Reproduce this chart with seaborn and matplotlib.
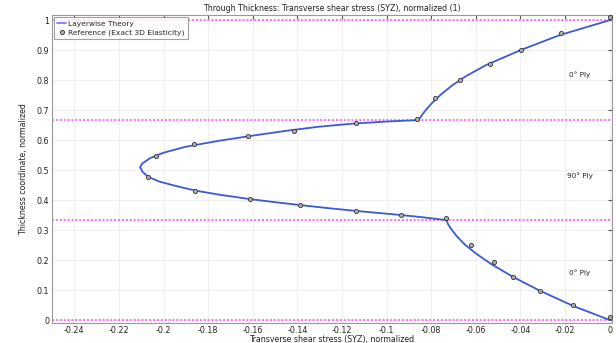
import matplotlib
matplotlib.use("Agg")
import matplotlib.pyplot as plt
import seaborn as sns
import pandas as pd

# Layerwise theory curve, bottom to top
theory_x = [0.0, -0.0164, -0.0314, -0.0434, -0.053, -0.060, -0.065, -0.0685, -0.071, -0.0725,
            -0.0732, -0.083, -0.0934, -0.1035, -0.114, -0.126, -0.139, -0.15, -0.161,
            -0.175, -0.186, -0.195, -0.202, -0.207, -0.2095, -0.2105,
            -0.2095, -0.206, -0.200, -0.19, -0.175, -0.16, -0.145, -0.13, -0.115, -0.10,
            -0.0857, -0.0845, -0.0825, -0.0795, -0.0755, -0.0705, -0.0645, -0.0555,
            -0.040, -0.0225, 0.0]
theory_y = [0.0, 0.047, 0.098, 0.144, 0.186, 0.222, 0.252, 0.279, 0.303, 0.32,
            0.3333, 0.342, 0.35, 0.357, 0.364, 0.373, 0.3835, 0.393, 0.403,
            0.418, 0.432, 0.448, 0.462, 0.478, 0.495, 0.51,
            0.522, 0.54, 0.558, 0.578, 0.598, 0.615, 0.631, 0.645, 0.655, 0.662,
            0.6667, 0.68, 0.70, 0.725, 0.753, 0.783, 0.813, 0.85,
            0.90, 0.95, 1.0]

# Reference (exact 3D elasticity) points
ref_x = [0.0, -0.0164, -0.0314, -0.0434, -0.052, -0.062, -0.0732,
         -0.0934, -0.1139, -0.139, -0.1614, -0.1858, -0.207,
         -0.2036, -0.1864, -0.1622, -0.1413, -0.1139, -0.0864,
         -0.0782, -0.0673, -0.0538, -0.0396, -0.0217, 0.0]
ref_y = [0.011, 0.05, 0.098, 0.144, 0.192, 0.25, 0.339,
         0.35, 0.364, 0.383, 0.403, 0.431, 0.476,
         0.548, 0.586, 0.613, 0.631, 0.656, 0.672,
         0.739, 0.80, 0.853, 0.90, 0.956, 1.009]

ply_bounds = [0.0, 1 / 3, 2 / 3, 1.0]
ply_labels = ["0° Ply", "90° Ply", "0° Ply"]
label_y = [0.157, 0.483, 0.817]

xticks = [-0.24, -0.22, -0.2, -0.18, -0.16, -0.14, -0.12, -0.1, -0.08, -0.06, -0.04, -0.02, 0]
yticks = [0, 0.1, 0.2, 0.3, 0.4, 0.5, 0.6, 0.7, 0.8, 0.9, 1]

sns.set_style("white")
plt.rcParams["font.family"] = ["DejaVu Sans"]

fig = plt.figure(figsize=(6.16, 3.43), dpi=100)
ax = fig.add_axes([0.0844, 0.0583, 0.909, 0.8977])

for yb in ply_bounds:
    ax.axhline(yb, color="#ff66ff", lw=1.4, ls=(0, (1, 1)), zorder=1)

theory = pd.DataFrame({"x": theory_x, "y": theory_y})
ref = pd.DataFrame({"x": ref_x, "y": ref_y})

sns.lineplot(data=theory, x="x", y="y", sort=False, estimator=None,
             color="#3a5ad6", lw=1.3, ax=ax, label="Layerwise Theory", zorder=3)
sns.scatterplot(data=ref, x="x", y="y", s=9, color="#b0b0b0", edgecolor="#333333",
                linewidth=0.6, ax=ax, label="Reference (Exact 3D Elasticity)", zorder=4)

for txt, ly in zip(ply_labels, label_y):
    ax.text(-0.0135, ly, txt, fontsize=5.2, ha="center", va="center", color="#222222")

ax.set_xlim(-0.25, 0.001)
ax.set_ylim(-0.01, 1.017)
ax.set_xticks(xticks)
ax.set_xticklabels([f"{t:g}" for t in xticks])
ax.set_yticks(yticks)
ax.set_yticklabels([f"{t:g}" for t in yticks])
ax.grid(True, color="#ececec", lw=0.6)
ax.tick_params(labelsize=5.8, length=3, direction="in", top=True, right=True,
               colors="#555555", labelcolor="#222222", pad=2)
for sp in ax.spines.values():
    sp.set_color("#999999")
    sp.set_linewidth(0.8)

ax.set_title("Through Thickness: Transverse shear stress (SYZ), normalized (1)",
             fontsize=5.7, pad=3, color="#222222")
ax.set_xlabel("Transverse shear stress (SYZ), normalized", fontsize=5.7, labelpad=0, color="#222222")
ax.set_ylabel("Thickness coordinate, normalized", fontsize=5.7, labelpad=6, color="#222222")

leg = ax.legend(loc="upper left", fontsize=5.4, frameon=True, fancybox=False,
                edgecolor="#888888", borderpad=0.4, handlelength=1.2, handletextpad=0.3,
                labelspacing=0.3, borderaxespad=0.3)
leg.get_frame().set_linewidth(0.8)
leg.get_lines()[0].set_color("#7f7fee")

fig.savefig("out.png", dpi=100)
